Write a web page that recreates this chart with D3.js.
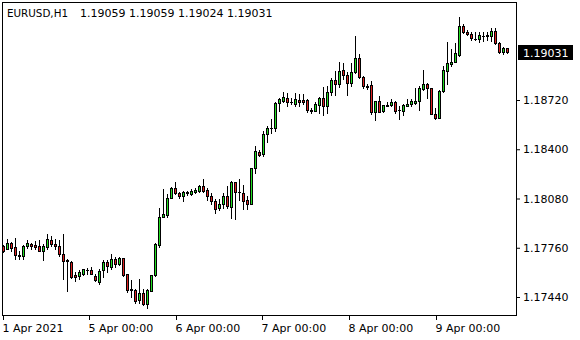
<!DOCTYPE html>
<html>
<head>
<meta charset="utf-8">
<script src="https://cdn.jsdelivr.net/npm/d3@7"></script>
<style>
  body { margin: 0; background: #fff; }
  svg { display: block; font-family: "DejaVu Sans", sans-serif; font-size: 11px; }
</style>
</head>
<body>
<svg id="chart"></svg>
<script>
  // EURUSD H1 bars, one entry per hour
  const symbol = 'EURUSD,H1';
  const opens = [
    1.17770, 1.17755, 1.17794, 1.17768, 1.17713, 1.17707, 1.17772, 1.17787, 1.17776, 1.17770,
    1.17742, 1.17768, 1.17809, 1.17787, 1.17770, 1.17722, 1.17679, 1.17668, 1.17583, 1.17577,
    1.17592, 1.17617, 1.17616, 1.17577, 1.17540, 1.17616, 1.17668, 1.17638, 1.17690, 1.17653,
    1.17692, 1.17588, 1.17490, 1.17484, 1.17423, 1.17464, 1.17397, 1.17479, 1.17581, 1.17776,
    1.17960, 1.17973, 1.18086, 1.18151, 1.18114, 1.18099, 1.18116, 1.18110, 1.18123, 1.18129,
    1.18158, 1.18136, 1.18093, 1.18064, 1.18017, 1.18043, 1.18093, 1.18028, 1.18184, 1.18125,
    1.18114, 1.18069, 1.18047, 1.18275, 1.18383, 1.18368, 1.18498, 1.18539, 1.18539, 1.18699,
    1.18714, 1.18736, 1.18710, 1.18697, 1.18721, 1.18721, 1.18719, 1.18654, 1.18650, 1.18686,
    1.18730, 1.18683, 1.18771, 1.18849, 1.18827, 1.18914, 1.18881, 1.18831, 1.18899, 1.18990,
    1.18870, 1.18808, 1.18816, 1.18639, 1.18712, 1.18649, 1.18686, 1.18686, 1.18708, 1.18654,
    1.18649, 1.18682, 1.18693, 1.18699, 1.18714, 1.18790, 1.18823, 1.18797, 1.18632, 1.18604,
    1.18779, 1.18909, 1.18953, 1.18970, 1.19013, 1.19198, 1.19165, 1.19152, 1.19115, 1.19115,
    1.19137, 1.19133, 1.19133, 1.19169, 1.19089, 1.19033, 1.19059
  ];
  const highs = [
    1.17778, 1.17820, 1.17799, 1.17826, 1.17739, 1.17778, 1.17809, 1.17794, 1.17804, 1.17809,
    1.17783, 1.17852, 1.17837, 1.17815, 1.17809, 1.17852, 1.17685, 1.17674, 1.17603, 1.17614,
    1.17625, 1.17631, 1.17635, 1.17592, 1.17625, 1.17679, 1.17679, 1.17718, 1.17700, 1.17700,
    1.17696, 1.17592, 1.17549, 1.17495, 1.17560, 1.17490, 1.17495, 1.17581, 1.17794, 1.18021,
    1.18140, 1.18108, 1.18155, 1.18184, 1.18125, 1.18129, 1.18129, 1.18140, 1.18145, 1.18166,
    1.18205, 1.18151, 1.18114, 1.18075, 1.18075, 1.18114, 1.18158, 1.18194, 1.18188, 1.18205,
    1.18166, 1.18093, 1.18281, 1.18422, 1.18396, 1.18519, 1.18548, 1.18595, 1.18704, 1.18730,
    1.18769, 1.18764, 1.18730, 1.18764, 1.18758, 1.18758, 1.18728, 1.18665, 1.18708, 1.18738,
    1.18806, 1.18808, 1.18860, 1.18909, 1.18966, 1.18961, 1.18903, 1.18961, 1.19133, 1.19022,
    1.18877, 1.18823, 1.18844, 1.18714, 1.18743, 1.18686, 1.18704, 1.18725, 1.18714, 1.18682,
    1.18693, 1.18725, 1.18725, 1.18797, 1.18812, 1.18914, 1.18829, 1.18801, 1.18667, 1.18784,
    1.18942, 1.19094, 1.19050, 1.19089, 1.19260, 1.19213, 1.19176, 1.19159, 1.19163, 1.19163,
    1.19159, 1.19163, 1.19185, 1.19185, 1.19094, 1.19065, 1.19059
  ];
  const lows = [
    1.17731, 1.17750, 1.17739, 1.17690, 1.17687, 1.17687, 1.17761, 1.17755, 1.17750, 1.17739,
    1.17681, 1.17750, 1.17772, 1.17750, 1.17707, 1.17555, 1.17479, 1.17566, 1.17544, 1.17555,
    1.17583, 1.17588, 1.17588, 1.17544, 1.17523, 1.17570, 1.17605, 1.17620, 1.17635, 1.17646,
    1.17577, 1.17475, 1.17440, 1.17404, 1.17404, 1.17388, 1.17371, 1.17477, 1.17577, 1.17765,
    1.17960, 1.17963, 1.18082, 1.18112, 1.18082, 1.18064, 1.18101, 1.18101, 1.18114, 1.18123,
    1.18121, 1.18071, 1.18043, 1.17989, 1.18006, 1.18021, 1.18017, 1.17956, 1.17945, 1.18071,
    1.18015, 1.18015, 1.18043, 1.18244, 1.18353, 1.18353, 1.18444, 1.18504, 1.18519, 1.18649,
    1.18704, 1.18682, 1.18691, 1.18682, 1.18683, 1.18697, 1.18643, 1.18634, 1.18649, 1.18634,
    1.18621, 1.18634, 1.18751, 1.18754, 1.18803, 1.18855, 1.18751, 1.18808, 1.18894, 1.18864,
    1.18801, 1.18790, 1.18632, 1.18591, 1.18639, 1.18645, 1.18678, 1.18678, 1.18634, 1.18595,
    1.18621, 1.18678, 1.18682, 1.18693, 1.18656, 1.18786, 1.18730, 1.18628, 1.18595, 1.18600,
    1.18769, 1.18823, 1.18942, 1.18964, 1.19007, 1.19154, 1.19141, 1.19111, 1.19111, 1.19094,
    1.19104, 1.19111, 1.19104, 1.19083, 1.19024, 1.19018, 1.19024
  ];
  const closes = [
    1.17739, 1.17794, 1.17761, 1.17711, 1.17709, 1.17774, 1.17789, 1.17772, 1.17768, 1.17742,
    1.17770, 1.17815, 1.17783, 1.17770, 1.17722, 1.17674, 1.17672, 1.17570, 1.17573, 1.17603,
    1.17620, 1.17614, 1.17592, 1.17551, 1.17609, 1.17668, 1.17640, 1.17690, 1.17653, 1.17696,
    1.17583, 1.17484, 1.17486, 1.17414, 1.17469, 1.17397, 1.17486, 1.17581, 1.17783, 1.17963,
    1.17978, 1.18086, 1.18151, 1.18114, 1.18099, 1.18119, 1.18119, 1.18127, 1.18134, 1.18158,
    1.18129, 1.18093, 1.18064, 1.18015, 1.18047, 1.18093, 1.18034, 1.18190, 1.18125, 1.18119,
    1.18064, 1.18047, 1.18275, 1.18387, 1.18361, 1.18498, 1.18541, 1.18541, 1.18699, 1.18725,
    1.18740, 1.18704, 1.18706, 1.18725, 1.18710, 1.18708, 1.18654, 1.18650, 1.18691, 1.18730,
    1.18683, 1.18775, 1.18849, 1.18827, 1.18907, 1.18881, 1.18828, 1.18899, 1.18990, 1.18870,
    1.18808, 1.18805, 1.18639, 1.18712, 1.18645, 1.18686, 1.18683, 1.18708, 1.18649, 1.18652,
    1.18686, 1.18697, 1.18712, 1.18714, 1.18801, 1.18823, 1.18795, 1.18632, 1.18602, 1.18779,
    1.18914, 1.18959, 1.18970, 1.19024, 1.19198, 1.19163, 1.19152, 1.19120, 1.19115, 1.19141,
    1.19139, 1.19141, 1.19169, 1.19089, 1.19033, 1.19055, 1.19031
  ];

  const priceTicks = [1.17440, 1.17760, 1.18080, 1.18400, 1.18720];
  // time labels sit at bar positions (bar index, can fall between bars)
  const timeTickBars = [0, 21.5, 43.25, 64.75, 86.5, 108.25];
  const timeTickLabels = ['1 Apr 2021', '5 Apr 00:00', '6 Apr 00:00', '7 Apr 00:00', '8 Apr 00:00', '9 Apr 00:00'];

  document.addEventListener('DOMContentLoaded', () => {
    drawChart();
  });

  function drawChart() {
    const width = 580;
    const height = 340;
    const frame = { left: 2, top: 2, right: 516, bottom: 315 };
    const bullColor = '#22dd22';
    const bearColor = '#dd2222';

    const bars = opens.map((o, i) => ({
      i: i, open: o, high: highs[i], low: lows[i], close: closes[i]
    }));

    const svg = d3.select('#chart')
      .attr('width', width)
      .attr('height', height);

    svg.append('rect')
      .attr('width', width)
      .attr('height', height)
      .attr('fill', '#fff');

    const x = d3.scaleLinear()
      .domain([0, bars.length - 1])
      .range([3, 507]);

    const y = d3.scaleLinear()
      .domain([1.17440, 1.18720])
      .range([297, 100]);

    // plot frame
    svg.append('rect')
      .attr('x', frame.left + 0.5)
      .attr('y', frame.top + 0.5)
      .attr('width', frame.right - frame.left)
      .attr('height', frame.bottom - frame.top)
      .attr('fill', 'none')
      .attr('stroke', '#000');

    const candles = svg.append('g')
      .selectAll('g')
      .data(bars)
      .enter()
      .append('g')
      .attr('shape-rendering', 'crispEdges');

    candles.append('line')
      .attr('x1', d => x(d.i) + 0.5)
      .attr('x2', d => x(d.i) + 0.5)
      .attr('y1', d => Math.round(y(d.high)))
      .attr('y2', d => Math.round(y(d.low)) + 1)
      .attr('stroke', '#000');

    candles.each(function(d) {
      const g = d3.select(this);
      const top = Math.round(y(Math.max(d.open, d.close)));
      const bottom = Math.round(y(Math.min(d.open, d.close)));
      const cx = x(d.i) + 0.5;
      if (bottom - top < 1) {
        g.append('line')
          .attr('x1', cx - 1.5)
          .attr('x2', cx + 1.5)
          .attr('y1', top + 0.5)
          .attr('y2', top + 0.5)
          .attr('stroke', '#000');
      } else {
        g.append('rect')
          .attr('x', cx - 1)
          .attr('y', top + 0.5)
          .attr('width', 2)
          .attr('height', bottom - top)
          .attr('fill', d.close > d.open ? bullColor : bearColor)
          .attr('stroke', '#000');
      }
    });

    // price axis
    const yAxis = svg.append('g')
      .attr('transform', `translate(${frame.right + 1},0)`)
      .call(d3.axisRight(y)
        .tickValues(priceTicks)
        .tickSize(3)
        .tickPadding(3)
        .tickFormat(d3.format('.5f')));
    yAxis.select('.domain').remove();
    yAxis.selectAll('text')
      .attr('fill', '#000')
      .attr('font-family', '"DejaVu Sans", sans-serif')
      .attr('font-size', 11);

    // time axis
    const xAxis = svg.append('g')
      .attr('transform', `translate(0,${frame.bottom + 1})`)
      .call(d3.axisBottom(x)
        .tickValues(timeTickBars)
        .tickSize(4)
        .tickPadding(4)
        .tickFormat((d, i) => timeTickLabels[i]));
    xAxis.select('.domain').remove();
    xAxis.selectAll('text')
      .attr('text-anchor', 'start')
      .attr('x', -1)
      .attr('fill', '#000')
      .attr('font-family', '"DejaVu Sans", sans-serif')
      .attr('font-size', 11);

    // last price marker
    const last = bars[bars.length - 1];
    const lastY = Math.round(y(last.close));
    svg.append('rect')
      .attr('x', 518)
      .attr('y', lastY - 7)
      .attr('width', 55)
      .attr('height', 15)
      .attr('fill', '#000');
    svg.append('text')
      .attr('x', 523)
      .attr('y', lastY + 4.5)
      .attr('fill', '#fff')
      .text(d3.format('.5f')(last.close));

    // header: symbol and OHLC of the current bar
    svg.append('text')
      .attr('x', 7)
      .attr('y', 17)
      .attr('fill', '#000')
      .attr('textLength', 61)
      .attr('lengthAdjust', 'spacingAndGlyphs')
      .text(symbol);
    svg.append('text')
      .attr('x', 80)
      .attr('y', 17)
      .attr('fill', '#000')
      .text([last.open, last.high, last.low, last.close].map(d3.format('.5f')).join(' '));
  }
</script>
</body>
</html>
